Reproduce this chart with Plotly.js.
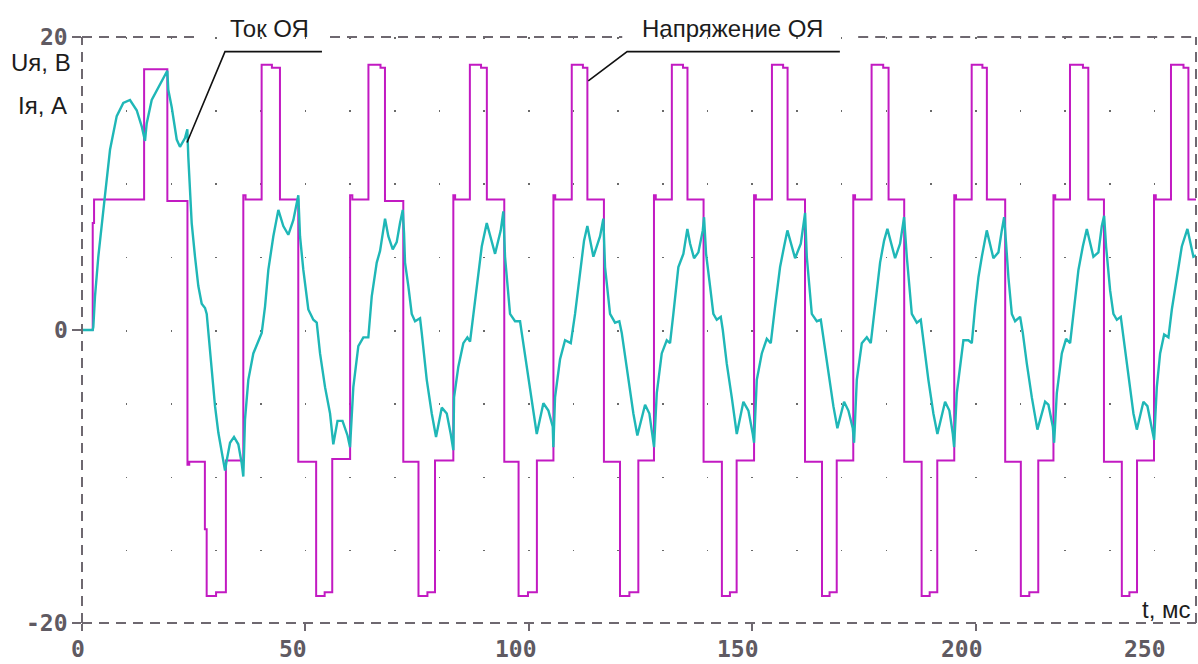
<!DOCTYPE html>
<html>
<head>
<meta charset="utf-8">
<script src="https://cdn.plot.ly/plotly-3.0.1.min.js"></script>
<style>
  html, body { margin: 0; padding: 0; background: #ffffff; }
  #chart { width: 1198px; height: 664px; }
</style>
</head>
<body>
<div id="chart"></div>
<script>
// ---------------- DATA ----------------
// Armature voltage Uя (В), step waveform: switching instants (ms) and levels held after them
const voltageT = [0, 2.4, 2.7, 13.9, 19.1, 23.6, 24.0, 27.5, 27.9, 30.0, 32.2,
  36.1, 36.6, 40.2, 42.5, 44.3, 48.4, 52.4, 54.3, 56.0,
  60.0, 60.5, 64.1, 66.8, 67.8, 71.9, 75.3, 77.3, 79.0,
  83.1, 83.5, 86.8, 89.3, 90.6, 94.5, 97.7, 99.8, 101.8,
  105.5, 105.9, 109.6, 112.1, 113.1, 116.8, 120.4, 122.5, 124.5,
  128.0, 128.4, 132.0, 134.5, 135.5, 139.1, 143.2, 145.0, 146.5,
  150.4, 150.8, 154.4, 156.9, 157.9, 161.8, 165.6, 167.3, 168.9,
  172.6, 173.0, 176.7, 179.3, 180.5, 184.0, 187.9, 189.7, 191.4,
  195.2, 195.6, 199.1, 201.5, 202.5, 206.6, 210.1, 212.0, 214.0,
  217.4, 217.8, 221.1, 224.0, 225.2, 228.7, 232.7, 234.4, 236.1,
  239.9, 240.3, 243.7, 246.5, 247.6, 249.3];
const voltageU = [0, 7.3, 8.9, 17.8, 8.8, -9.2, -9.0, -13.6, -18.15, -17.9, -8.9,
  9.2, 8.9, 18.1, 17.9, 8.9, -9.0, -18.15, -17.9, -8.8,
  9.2, 8.9, 18.1, 17.9, 8.8, -9.0, -18.15, -17.9, -8.9,
  9.2, 8.9, 18.1, 17.9, 8.9, -9.0, -18.15, -17.9, -8.9,
  9.2, 8.9, 18.1, 17.9, 8.9, -9.0, -18.15, -17.9, -8.9,
  9.2, 8.9, 18.1, 17.9, 8.9, -9.0, -18.15, -17.9, -8.9,
  9.2, 8.9, 18.1, 17.9, 8.9, -9.0, -18.15, -17.9, -8.9,
  9.2, 8.9, 18.1, 17.9, 8.9, -9.0, -18.15, -17.9, -8.9,
  9.2, 8.9, 18.1, 17.9, 8.9, -9.0, -18.15, -17.9, -8.9,
  9.2, 8.9, 18.1, 17.9, 8.9, -9.0, -18.15, -17.9, -8.9,
  9.2, 8.9, 18.1, 17.9, 8.9, 8.9];

// Armature current Iя (А): time (ms) and value
const currentT = [0, 2.39, 2.53, 2.91, 3.65, 4.41, 5.15, 6.27, 7.77, 9.24, 10.74, 12.24, 13.36, 14.10,
  14.48, 15.60, 17.46, 19.09, 19.31, 20.08, 21.20, 21.93, 23.05, 23.57, 23.79, 24.55, 25.29,
  26.03, 26.79, 27.53, 27.91, 28.27, 29.03, 29.77, 30.51, 31.27, 32.01, 32.39, 33.13, 34.02,
  34.98, 35.74, 36.10, 36.48, 37.22, 38.34, 39.46, 40.22, 40.96, 41.70, 42.82, 43.94, 45.05,
  46.17, 47.29, 48.41, 48.79, 49.53, 50.65, 51.77, 52.53, 53.27, 54.39, 55.51, 56.24, 57.18,
  58.30, 59.42, 59.98, 60.72, 61.84, 62.96, 64.08, 64.84, 65.96, 66.70, 67.82, 68.55, 69.54,
  70.43, 71.17, 71.78, 72.07, 72.29, 73.03, 73.79, 74.53, 75.65, 76.03, 77.15, 78.27, 79.23,
  80.51, 81.63, 82.52, 83.10, 83.26, 84.22, 85.34, 86.24, 86.84, 87.58, 88.70, 89.46, 90.58,
  92.44, 93.71, 94.29, 94.67, 95.79, 96.91, 98.03, 98.41, 99.89, 101.01, 101.77, 103.25,
  104.37, 105.35, 105.48, 105.86, 106.98, 108.10, 109.38, 110.34, 111.46, 112.35, 113.09,
  114.44, 115.94, 116.67, 117.05, 118.17, 119.29, 120.25, 120.79, 122.27, 123.39, 124.28,
  126.01, 126.97, 127.87, 128.02, 128.63, 129.74, 130.86, 131.60, 132.34, 133.46, 134.58,
  135.47, 136.08, 136.97, 137.94, 138.92, 139.21, 139.66, 140.55, 141.29, 142.05, 142.95,
  143.40, 144.29, 145.41, 146.53, 148.01, 149.13, 150.11, 150.40, 151.01, 152.13, 153.25,
  154.14, 155.10, 156.22, 157.12, 157.86, 159.58, 160.86, 161.82, 162.20, 163.32, 164.44,
  165.33, 165.92, 167.04, 168.15, 169.05, 170.54, 171.51, 172.49, 172.78, 173.39, 174.51,
  175.63, 176.52, 177.48, 178.60, 179.50, 180.24, 181.96, 183.08, 183.97, 184.58, 185.70,
  186.82, 187.71, 188.16, 189.41, 190.53, 191.43, 193.15, 194.11, 194.88, 195.17, 195.77,
  196.51, 197.25, 198.37, 199.13, 199.87, 200.61, 201.37, 202.48, 203.96, 205.08, 205.84,
  206.36, 206.80, 207.32, 208.08, 208.82, 209.94, 210.54, 211.44, 212.56, 213.81, 215.53,
  216.27, 217.26, 217.55, 218.15, 219.27, 220.23, 221.13, 221.87, 222.99, 223.97, 224.87,
  226.34, 227.46, 228.22, 228.74, 229.18, 230.08, 230.82, 231.58, 232.47, 233.06, 234.18,
  235.30, 236.06, 237.53, 238.43, 239.42, 239.93, 240.53, 241.27, 242.17, 243.13, 243.89,
  245.01, 246.12, 247.38, 248.72, 249.30];
const currentI = [0, 0, 0.2, 2.3, 5.0, 7.3, 9.2, 12.3, 14.6, 15.5, 15.7, 15.0, 13.9, 12.9,
  14.1, 15.7, 16.8, 17.7, 16.4, 15.2, 13.0, 12.5, 13.1, 13.7, 11.8, 7.3, 5.0,
  3.0, 1.8, 1.5, 1.1, -0.2, -3.0, -5.2, -7.0, -8.4, -9.6, -8.9, -7.7, -7.3,
  -7.8, -9.1, -10.0, -6.1, -3.4, -1.6, -0.7, -0.2, 1.6, 4.1, 6.4, 8.2, 7.1,
  6.5, 7.5, 9.2, 6.4, 4.1, 1.4, 0.7, 0.5, -1.6, -3.9, -5.7, -7.8, -6.2,
  -6.2, -7.2, -8.0, -3.9, -1.1, -0.5, -0.5, 2.3, 4.6, 5.4, 7.6, 6.4, 5.5,
  6.0, 7.3, 8.2, 6.6, 4.6, 3.0, 1.1, 0.6, 0.8, -0.2, -3.4, -5.7, -7.3,
  -5.3, -5.7, -7.1, -8.2, -4.6, -2.5, -0.9, -0.5, -0.8, 1.1, 3.6, 5.7, 7.3,
  5.2, 6.8, 8.1, 5.0, 1.1, 0.6, 0.6, -0.2, -3.4, -5.7, -7.1, -5.0,
  -5.5, -6.6, -8.0, -4.6, -2.0, -0.7, -0.9, 1.1, 4.1, 6.1, 7.1,
  5.0, 6.4, 7.6, 4.3, 1.1, 0.5, 0.6, -0.2, -3.4, -5.7, -7.2,
  -5.1, -5.7, -7.5, -8.0, -4.3, -1.6, -0.7, -0.9, 1.1, 4.3, 5.2,
  6.9, 5.9, 4.9, 5.3, 6.8, 7.7, 5.2, 3.0, 1.1, 0.7, 0.9,
  0.0, -2.3, -4.6, -7.1, -4.9, -5.5, -7.1, -7.7, -3.4, -1.6, -0.6,
  -0.9, 1.6, 4.3, 5.7, 6.8, 4.9, 5.9, 8.0, 5.0, 1.1, 0.6,
  0.7, -0.5, -3.0, -5.2, -6.7, -4.9, -5.5, -6.7, -7.7, -3.4, -0.9,
  -0.5, -0.9, 1.6, 4.6, 6.1, 6.9, 4.9, 5.9, 7.7, 5.0, 1.1,
  0.5, 0.7, -0.5, -3.4, -5.7, -7.1, -4.9, -5.5, -7.1, -8.0, -4.3,
  -2.6, -0.7, -0.7, -0.9, 1.6, 3.6, 5.0, 6.8, 4.9, 5.3, 6.8,
  7.7, 5.9, 3.6, 1.1, 0.6, 0.9, -0.2, -2.3, -4.6, -6.8, -4.9,
  -5.1, -6.6, -7.7, -4.3, -1.6, -0.6, -0.9, 1.1, 4.1, 5.7, 6.9,
  5.0, 5.3, 7.1, 7.8, 5.7, 2.7, 1.1, 0.7, 0.9, -0.5, -3.0,
  -5.7, -6.8, -4.9, -5.2, -6.6, -7.5, -3.9, -1.6, -0.3, -0.5, 1.4,
  3.6, 5.7, 6.9, 5.0, 5.1];

// Axis ticks and labels
const xTickVals = [0, 50, 100, 150, 200, 250];
const xTickText = ['0', '50', '100', '150', '200', '250'];
const yTickVals = [-20, 0, 20];
const yTickText = ['-20', '0', '20'];
const xMax = 249.3;

// Text labels
const labelVoltageAxis = 'Uя, В';
const labelCurrentAxis = 'Iя, А';
const labelCurrent = 'Ток ОЯ';
const labelVoltage = 'Напряжение ОЯ';
const labelTime = 't, мс';

// ---------------- STYLE ----------------
const MAGENTA = '#c21ac2';
const CYAN = '#1fb7b7';
const AXIS_GRAY = '#6e6870';
const TICK_FONT = { family: 'DejaVu Sans Mono, monospace', size: 23, color: '#5f5a62', weight: 'bold' };
const TEXT_FONT = { family: 'Liberation Sans, Arial, sans-serif', size: 24, color: '#1c1c1c' };
const DASH = '10px,7px';
const xLabelShift = [-4, -12, -13, -14, -14, -54];

const traces = [
  { type: 'scatter', mode: 'lines', x: voltageT, y: voltageU, name: labelVoltage,
    line: { color: MAGENTA, width: 2, shape: 'hv' }, hoverinfo: 'skip' },
  { type: 'scatter', mode: 'lines', x: currentT, y: currentI, name: labelCurrent,
    line: { color: CYAN, width: 2.4 }, hoverinfo: 'skip' }
];

const shapes = [];
function pline(x0, y0, x1, y1) {
  shapes.push({ type: 'line', xref: 'paper', yref: 'paper', x0, y0, x1, y1,
    line: { color: AXIS_GRAY, width: 2, dash: DASH }, layer: 'above' });
}
// frame (dashed)
pline(0, 0, 0, 1);
pline(0, 0, 1, 0);
pline(1, 0, 1, 1);
// top border with gaps for the two captions (gaps in ms)
const topGaps = [[26.4, 55.5], [120.9, 173.7]];
let start = 0;
topGaps.forEach(g => { pline(start / xMax, 1, g[0] / xMax, 1); start = g[1]; });
pline(start / xMax, 1, 1, 1);

// leader lines of the captions (data coordinates)
shapes.push({ type: 'path', xref: 'x', yref: 'y', layer: 'above',
  path: 'M 53.7 19.0 L 32.0 19.0 L 23.5 12.8', line: { color: '#111111', width: 1.6 } });
shapes.push({ type: 'path', xref: 'x', yref: 'y', layer: 'above',
  path: 'M 169.6 19.0 L 122.0 19.0 L 113.3 17.0', line: { color: '#111111', width: 1.6 } });

// y (data) -> paper fraction for captions placed above the frame
const yToPaper = v => (v + 20) / 40;

const annotations = [];
xTickVals.forEach((v, i) => annotations.push({
  xref: 'paper', yref: 'paper', x: v / xMax, y: 0, xanchor: 'center', yanchor: 'bottom',
  xshift: xLabelShift[i], yshift: -41, text: xTickText[i], showarrow: false, font: TICK_FONT
}));
yTickVals.forEach((v, i) => annotations.push({
  xref: 'paper', yref: 'paper', x: 0, y: yToPaper(v), xanchor: 'right', yanchor: 'middle',
  xshift: -12, yshift: 0, text: yTickText[i], showarrow: false, font: TICK_FONT
}));
annotations.push({ xref: 'paper', yref: 'paper', x: 0, y: yToPaper(18.26), xanchor: 'right', yanchor: 'middle',
  xshift: -9, text: labelVoltageAxis, showarrow: false, font: TEXT_FONT });
annotations.push({ xref: 'paper', yref: 'paper', x: 0, y: yToPaper(15.3), xanchor: 'right', yanchor: 'middle',
  xshift: -13, text: labelCurrentAxis, showarrow: false, font: TEXT_FONT });
annotations.push({ xref: 'paper', yref: 'paper', x: 41.85 / xMax, y: yToPaper(20.6), xanchor: 'center', yanchor: 'middle',
  text: labelCurrent, showarrow: false, font: TEXT_FONT });
annotations.push({ xref: 'paper', yref: 'paper', x: 145.5 / xMax, y: yToPaper(20.6), xanchor: 'center', yanchor: 'middle',
  text: labelVoltage, showarrow: false, font: TEXT_FONT });
annotations.push({ xref: 'paper', yref: 'paper', x: 248.7 / xMax, y: yToPaper(-19.1), xanchor: 'right', yanchor: 'middle',
  text: labelTime, showarrow: false, font: TEXT_FONT });

const gridStyle = { showgrid: true, gridcolor: '#6a6a6a', gridwidth: 1.6, griddash: '1.6px,71.65px' };

const layout = {
  width: 1198, height: 664,
  margin: { l: 82, r: 2, t: 37, b: 41, pad: 0 },
  paper_bgcolor: '#ffffff', plot_bgcolor: '#ffffff',
  showlegend: false,
  xaxis: Object.assign({
    range: [0, xMax], tickmode: 'array', tickvals: xTickVals, ticktext: xTickText,
    showticklabels: false, ticks: 'outside', ticklen: 7, tickwidth: 2, tickcolor: AXIS_GRAY,
    zeroline: false, showline: false, fixedrange: true,
    minor: Object.assign({ dtick: 10, tick0: 0, ticks: '' }, gridStyle)
  }, gridStyle),
  yaxis: {
    range: [-20, 20], tickmode: 'array', tickvals: yTickVals, ticktext: yTickText,
    showticklabels: false, ticks: 'outside', ticklen: 9, tickwidth: 2, tickcolor: AXIS_GRAY,
    showgrid: false, zeroline: false, showline: false, fixedrange: true
  },
  shapes: shapes,
  annotations: annotations
};

Plotly.newPlot('chart', traces, layout, { displayModeBar: false, staticPlot: true });
</script>
</body>
</html>
